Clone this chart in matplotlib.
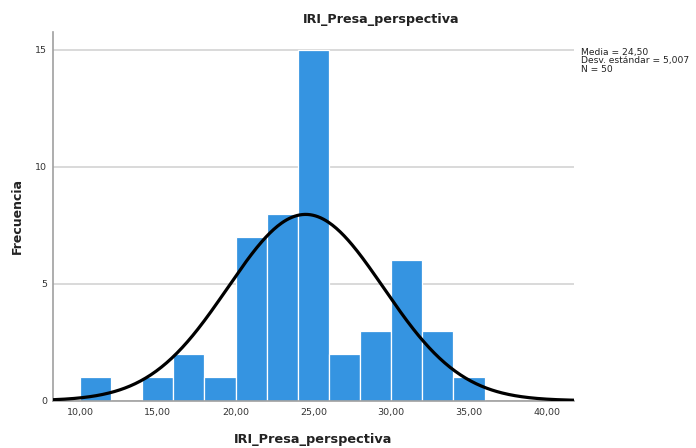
import numpy as np
import matplotlib.pyplot as plt

# Histogram data (bin edges of width 2, counts)
bin_edges = [10, 12, 14, 16, 18, 20, 22, 24, 26, 28, 30, 32, 34, 36]
counts = [1, 0, 1, 2, 1, 7, 8, 15, 2, 3, 6, 3, 1]

media = 24.50
desv = 5.007
n_total = 50

x_ticks = [10, 15, 20, 25, 30, 35, 40]
x_tick_labels = ["10,00", "15,00", "20,00", "25,00", "30,00", "35,00", "40,00"]
y_ticks = [0, 5, 10, 15]

fig = plt.figure(figsize=(6.96, 4.48), dpi=100)
ax = fig.add_axes([0.0761, 0.1056, 0.7486, 0.823])

left = bin_edges[:-1]
widths = np.diff(bin_edges)
ax.bar(left, counts, width=widths, align='edge', color='#3594e1',
       edgecolor='white', linewidth=0.9, zorder=2)

xlim = (8.26, 41.75)
xs = np.linspace(xlim[0], xlim[1], 400)
bw = bin_edges[1] - bin_edges[0]
ys = n_total * bw / (desv * np.sqrt(2 * np.pi)) * np.exp(-0.5 * ((xs - media) / desv) ** 2)
ax.plot(xs, ys, color='black', linewidth=2.3, zorder=3, solid_capstyle='butt')

ax.set_xlim(*xlim)
ax.set_ylim(0, 15.77)
ax.set_xticks(x_ticks)
ax.set_xticklabels(x_tick_labels)
ax.set_yticks(y_ticks)
ax.tick_params(axis='both', length=0, labelsize=6.8, colors='#333333')
ax.tick_params(axis='x', pad=5)
ax.tick_params(axis='y', pad=4)

ax.grid(axis='y', color='#d3d3d3', linewidth=1.2, zorder=0)
ax.set_axisbelow(True)
for side in ['top', 'right']:
    ax.spines[side].set_visible(False)
for side in ['left', 'bottom']:
    ax.spines[side].set_color('#a0a0a0')
    ax.spines[side].set_linewidth(1.2)

ax.set_xlabel("IRI_Presa_perspectiva", fontsize=9.3, fontweight='bold', labelpad=12, color='#222222')
ax.set_ylabel("Frecuencia", fontsize=9, fontweight='bold', labelpad=8, color='#222222')
fig.text(381 / 696, 1 - 20 / 448, "IRI_Presa_perspectiva", fontsize=9.2, fontweight='bold',
         ha='center', va='center', color='#222222')

stats = "Media = 24,50\nDesv. estándar = 5,007\nN = 50"
fig.text(581 / 696, 1 - 48 / 448, stats, fontsize=6.6, ha='left', va='top',
         linespacing=0.92, color='#222222')

fig.savefig("out.png", dpi=100)
